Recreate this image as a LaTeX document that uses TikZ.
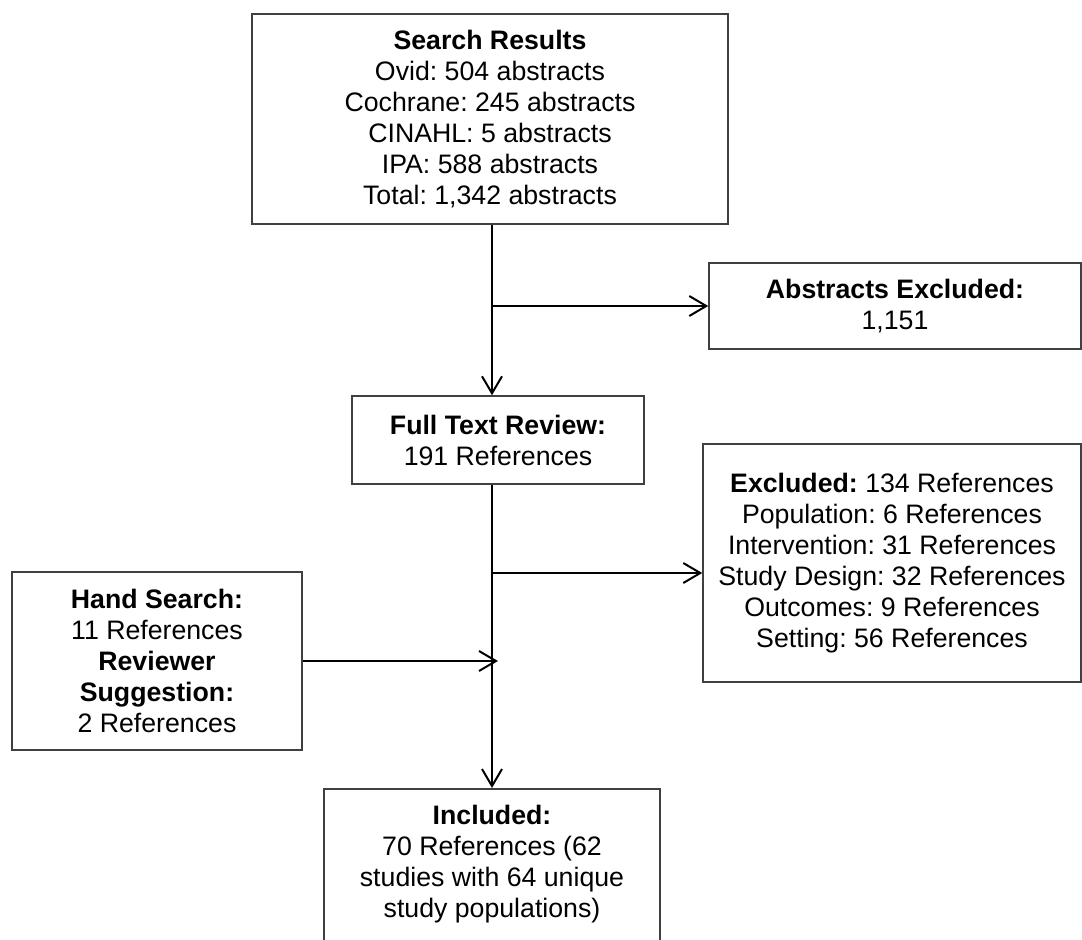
\documentclass[tikz,border=0pt]{standalone}
\usepackage{fontspec}
\setmainfont{Liberation Sans}
\usetikzlibrary{arrows.meta}
\frenchspacing

\begin{document}
\begin{tikzpicture}[x=1pt, y=-1pt, >={Straight Barb[length=17pt,width=20pt]},
    box/.style={draw=black!75, line width=1.5pt, align=center, inner sep=0pt,
        font=\fontsize{26.7}{31}\selectfont},
    arr/.style={->, line width=2pt}]
    % 画布范围
    \useasboundingbox (0,0) rectangle (1082,940);
    % 方框
    \node[box, minimum width=476pt, minimum height=210pt] (search) at (490,119)
        {\textbf{Search Results}\\Ovid: 504 abstracts\\Cochrane: 245 abstracts\\CINAHL: 5 abstracts\\IPA: 588 abstracts\\Total: 1,342 abstracts};
    \node[box, minimum width=372pt, minimum height=86pt] (abs) at (895,306)
        {\textbf{Abstracts Excluded:}\\1,151};
    \node[box, minimum width=292pt, minimum height=88pt] (full) at (498,440)
        {\textbf{Full Text Review:}\\191 References};
    \node[box, minimum width=378pt, minimum height=238pt] (exc) at (892,563)
        {\textbf{Excluded:} 134 References\\Population: 6 References\\Intervention: 31 References\\Study Design: 32 References\\Outcomes: 9 References\\Setting: 56 References};
    \node[box, minimum width=290pt, minimum height=178pt] (hand) at (157,661)
        {\textbf{Hand Search:}\\11 References\\\textbf{Reviewer}\\\textbf{Suggestion:}\\2 References};
    \node[box, minimum width=336pt, inner ysep=16pt, anchor=north] (inc) at (492,788)
        {\textbf{Included:}\\70 References (62\\studies with 64 unique\\study populations)\\\mbox{}};
    % 分支点
    \coordinate (b1) at (492,306);
    \coordinate (b2) at (492,573);
    \coordinate (b3) at (498,661);
    % 箭头
    \draw[arr] (search.south -| b1) -- (full.north -| b1);
    \draw[arr] (b1) -- (abs);
    \draw[arr] (full.south -| b1) -- (inc.north -| b1);
    \draw[arr] (b2) -- (exc.west |- b2);
    \draw[arr] (hand) -- (b3);
\end{tikzpicture}
\end{document}
